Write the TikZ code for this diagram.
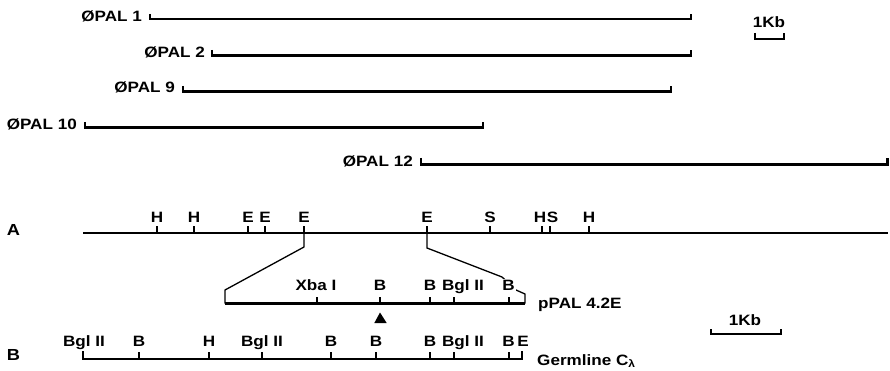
\documentclass[tikz,border=0pt]{standalone}
\usepackage{fontspec}
\setmainfont{Liberation Sans}[FakeStretch=1.14]
\newcommand{\lblfont}{\fontsize{15}{18}\selectfont\bfseries}
\begin{document}
\begin{tikzpicture}[x=1pt,y=-1pt,
  lbl/.style={font=\lblfont, inner sep=0pt, anchor=base},
  bigl/.style={font=\fontsize{16}{18}\selectfont\bfseries, inner sep=0pt, anchor=base west},
  clone/.style={line width=2.2pt, line join=miter},
  mapline/.style={line width=2.5pt, line join=miter},
  tk/.style={line width=1.6pt},
  expl/.style={line width=1.3pt, line join=miter}]
\useasboundingbox (0,0) rectangle (890,371);
% clones
\node[lbl, anchor=base east] (c1) at (142,21.5) {ØPAL 1};
\draw[clone] (150,14) -- (150,19) -- (691,19) -- (691,14);
\node[lbl, anchor=base east] (c2) at (205,58) {ØPAL 2};
\draw[clone] (212,50) -- (212,55.5) -- (691,55.5) -- (691,50);
\node[lbl, anchor=base east] (c9) at (175,93) {ØPAL 9};
\draw[clone] (183,86) -- (183,91.5) -- (671,91.5) -- (671,86);
\node[lbl, anchor=base east] (c10) at (77,130) {ØPAL 10};
\draw[clone] (85,122) -- (85,127.5) -- (483,127.5) -- (483,122);
\node[lbl, anchor=base east] (c12) at (413,166.5) {ØPAL 12};
\draw[clone] (421,158) -- (421,164.5) -- (887.5,164.5) -- (887.5,158);
% top scale
\node[lbl] (kb1) at (769,28) {1Kb};
\draw[tk] (755,33) -- (755,39) -- (784,39) -- (784,33);
% map A
\node[bigl] (labA) at (6.7,235) {A};
\draw[mapline] (83,233) -- (888,233);
\foreach \x in {157,194,248,265,304,427,490,542,550,589}
  \draw[tk] (\x,233) -- (\x,226);
\foreach \x/\t [count=\i] in {157/H,194/H,248/E,265/E,304/E,427/E,490/S,540/H,552.5/S,589/H}
  \node[lbl] (a\i) at (\x,222.5) {\t};
% expansion
\draw[expl] (304,233) -- (304,247) -- (225,290) -- (225,303.5);
\draw[expl] (427,233) -- (427,248) -- (502,277) -- (516,290) -- (525,294) -- (525,303.5);
% pPAL 4.2E
\draw[mapline] (225,303.5) -- (525,303.5);
\foreach \x in {317,380,430,454,509}
  \draw[tk] (\x,303.5) -- (\x,296.5);
\node[lbl] (p1) at (316,290) {Xba I};
\node[lbl] (p2) at (380,290) {B};
\node[lbl] (p3) at (430,290) {B};
\node[lbl] (p4) at (463,290) {Bgl II};
\node[lbl, fill=white, inner sep=1pt] (p5) at (508.5,290) {B};
\fill (380,312.5) -- (374.3,323) -- (386.7,323) -- cycle;
\node[lbl, anchor=base west] (pp) at (538,308.5) {pPAL 4.2E};
% germline B
\node[bigl] (labB) at (6.7,360) {B};
\draw[mapline] (83,351) -- (83,359) -- (522,359) -- (522,351);
\foreach \x in {139,209,262,331,376,430,454,509}
  \draw[tk] (\x,359) -- (\x,352);
\foreach \x/\t [count=\i] in {84/Bgl II,139/B,209/H,262/Bgl II,331/B,376/B,430/B,463/Bgl II,508.5/B,523/E}
  \node[lbl] (b\i) at (\x,346.5) {\t};
\node[lbl, anchor=base west] (gl) at (537,365) {Germline C\textsubscript{λ}};
% bottom scale
\node[lbl] (kb2) at (745,325) {1Kb};
\draw[tk] (711,329) -- (711,334) -- (781,334) -- (781,329);
\end{tikzpicture}
\end{document}
